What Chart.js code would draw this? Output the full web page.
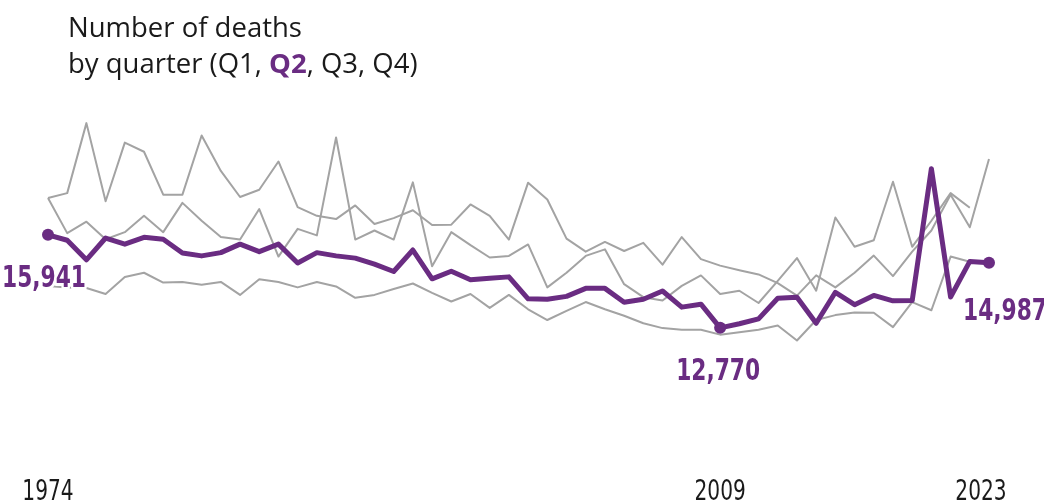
<!DOCTYPE html>
<html>
<head>
<meta charset="utf-8">
<script src="https://cdn.jsdelivr.net/npm/chart.js@4"></script>
<style>
  body { margin: 0; background: #fff; }
  #wrap { position: relative; width: 1044px; height: 502px; }
  #title {
    position: absolute; left: 68px; top: 9px;
    font-family: "Open Sans", "Noto Sans", sans-serif;
    font-size: 27.5px; line-height: 36px; color: #1a1a1a;
  }
  #title b { color: #6a2c82; }
</style>
</head>
<body>
<div id="wrap">
  <canvas id="myChart" width="1044" height="502"></canvas>
  <div id="title">Number of deaths<br>by quarter (Q1, <b>Q2</b>, Q3, Q4)</div>
</div>
<script>
const ctx = document.getElementById("myChart");

let years = [];
for (let y = 1974; y <= 2023; y++) years.push(String(y));

// deaths per quarter
let q1 = [17195, 17361, 19746, 17085, 19081, 18771, 17308, 17308, 19323, 18116,
          17228, 17474, 18439, 16885, 16586, 16476, 16942, 16310, 16510, 16776,
          16277, 16287, 16975, 16586, 15778, 17717, 17142, 15811, 15365, 15698,
          15389, 15665, 14923, 15864, 15113, 14890, 14734, 14590, 14291, 13869,
          14557, 14148, 14647, 15232, 14534, 15365, 16087, 17308, 16197, 18525];
let q2 = [15941, 15755, 15089, 15831, 15622, 15854, 15788, 15322, 15222, 15332,
          15622, 15365, 15622, 14980, 15332, 15222, 15146, 14940, 14690, 15422,
          14441, 14700, 14408, 14457, 14507, 13759, 13742, 13842, 14115, 14115,
          13643, 13742, 14025, 13476, 13576, 12770, 12911, 13077, 13776, 13816,
          12927, 13982, 13559, 13876, 13692, 13700, 18193, 13819, 15033, 14987];
let q3 = [14200, 14148, 14125, 13925, 14501, 14647, 14314, 14334, 14241, 14334,
          13892, 14424, 14334, 14148, 14334, 14181, 13792, 13892, 14092, 14281,
          13959, 13669, 13925, 13450, 13892, 13403, 13037, 13350, 13649, 13403,
          13184, 12927, 12761, 12705, 12705, 12538, 12618, 12705, 12851, 12339,
          13037, 13204, 13293, 13283, 12794, 13649, 13370, 15199, 15023, null];
let q4 = [17195, 15997, 16387, 15788, 16031, 16586, 16031, 17028, 16420, 15864,
          15778, 16819, 15199, 16144, 15921, 19257, 15778, 16087, 15778, 17727,
          14867, 16031, 15588, 15166, 15222, 15612, 14148, 14647, 15222, 15445,
          14258, 13816, 13703, 14201, 14557, 13925, 14035, 13616, 14368, 15146,
          14035, 16530, 15532, 15755, 17750, 15532, 16420, 17361, 16862, null];

let tickYears = ["1974", "2009", "2023"];
let markIdx = [0, 35, 49];

const purple = "#6a2c82";
const grey = "#a3a3a3";

function greyLine(label, data) {
  return {
    label: label, data: data, borderColor: grey, borderWidth: 2,
    pointRadius: 0, order: 1, borderJoinStyle: "round", tension: 0,
  };
}

// narrow text: squeeze horizontally, no condensed face installed
function narrowText(c, txt, x, y, sx, halo) {
  c.save();
  c.translate(x, y);
  c.scale(sx, 1);
  if (halo) {
    c.lineWidth = 6;
    c.strokeStyle = "#fff";
    c.lineJoin = "round";
    c.strokeText(txt, 0, 0);
  }
  c.fillText(txt, 0, 0);
  c.restore();
}

const labelsPlugin = {
  id: "labelsPlugin",
  afterDatasetsDraw(chart) {
    const c = chart.ctx;
    const xs = chart.scales.x;
    c.save();
    c.textAlign = "center";
    c.textBaseline = "alphabetic";
    // year labels under the plot
    c.font = "28px 'DejaVu Sans Condensed', 'DejaVu Sans', sans-serif";
    c.fillStyle = "#1a1a1a";
    tickYears.forEach((y, k) => {
      let x = xs.getPixelForValue(years.indexOf(y));
      if (k === tickYears.length - 1) x -= 8;
      narrowText(c, y, x, 500, 0.8, false);
    });
    // value labels for Q2
    const meta = chart.getDatasetMeta(0);
    const offs = [[-4, 52], [-2, 52], [16, 57]];
    c.font = "bold 31px 'DejaVu Sans Condensed', 'DejaVu Sans', sans-serif";
    c.fillStyle = purple;
    markIdx.forEach((i, k) => {
      const p = meta.data[i];
      const txt = q2[i].toLocaleString("en-US");
      narrowText(c, txt, p.x + offs[k][0], p.y + offs[k][1], 0.78, true);
    });
    c.restore();
  },
};

new Chart(ctx, {
  type: "line",
  data: {
    labels: years,
    datasets: [
      {
        label: "Q2", data: q2, borderColor: purple, backgroundColor: purple,
        borderWidth: 5, order: 0, borderJoinStyle: "round", borderCapStyle: "round",
        pointRadius: (c) => (markIdx.includes(c.dataIndex) ? 6 : 0),
        pointBorderWidth: 0, pointBackgroundColor: purple,
      },
      greyLine("Q1", q1),
      greyLine("Q3", q3),
      greyLine("Q4", q4),
    ],
  },
  options: {
    responsive: false,
    animation: false,
    layout: { padding: { left: 48, right: 55, top: 0, bottom: 0 } },
    plugins: {
      legend: { display: false },
      tooltip: { enabled: false },
    },
    scales: {
      x: { display: false, offset: false },
      y: { display: false, min: 7040, max: 23737 },
    },
  },
  plugins: [labelsPlugin],
});
</script>
</body>
</html>
